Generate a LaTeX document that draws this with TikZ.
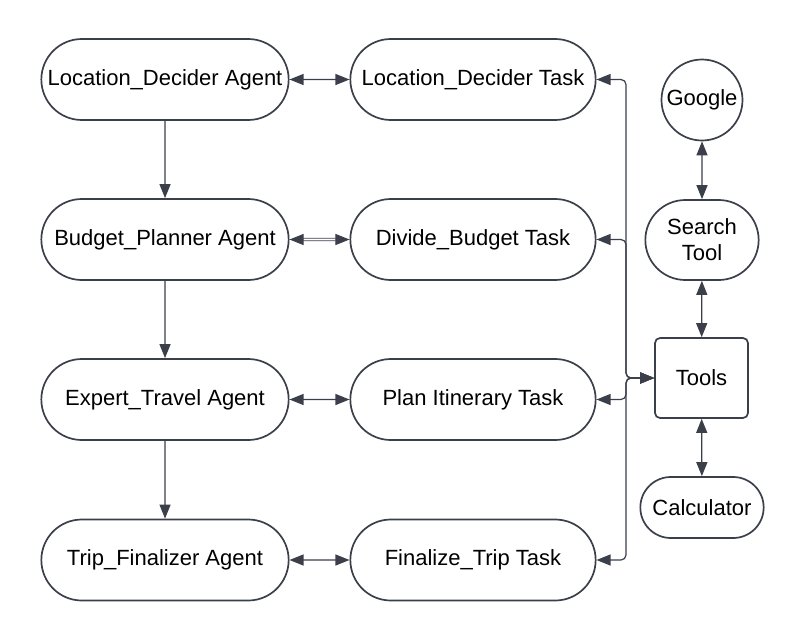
\documentclass[tikz,border=0pt]{standalone}
\usepackage{fontspec}
\setmainfont{Liberation Sans}
\usetikzlibrary{arrows.meta,shapes.misc}
\definecolor{ln}{RGB}{58,63,74}
\begin{document}
\begin{tikzpicture}[x=1pt,y=-1pt,
  every node/.style={font=\fontsize{22}{26}\selectfont, text=black},
  pill/.style={draw=ln, line width=1.7pt, rounded rectangle, fill=white, align=center},
  bigpill/.style={pill, minimum width=254pt, minimum height=81pt},
  conn/.style={draw=ln, line width=1.2pt},
  tip/.style={-{Triangle[length=14pt,width=11pt]}},
  tips/.style={{Triangle[length=14pt,width=11pt]}-{Triangle[length=14pt,width=11pt]}}
]
\useasboundingbox (0,0) rectangle (806,643);
% agents
\node[bigpill] (a1) at (165,79.5) {Location\_Decider Agent};
\node[bigpill] (a2) at (165,239.5) {Budget\_Planner Agent};
\node[bigpill] (a3) at (165,399.5) {Expert\_Travel Agent};
\node[bigpill] (a4) at (165,560) {Trip\_Finalizer Agent};
% tasks
\node[bigpill, minimum width=252pt] (t1) at (473,79.5) {Location\_Decider Task};
\node[bigpill, minimum width=252pt] (t2) at (473,239.5) {Divide\_Budget Task};
\node[bigpill, minimum width=252pt] (t3) at (473,399.5) {Plan Itinerary Task};
\node[bigpill, minimum width=252pt] (t4) at (473,560) {Finalize\_Trip Task};
% tools column
\node[draw=ln, line width=1.7pt, circle, minimum size=81pt, inner sep=0pt] (g) at (702,100) {Google};
\node[pill, minimum width=120pt, minimum height=80pt] (s) at (702,240) {Search\\Tool};
\node[draw=ln, line width=1.7pt, rounded corners=5pt, minimum width=93pt, minimum height=80pt] (tl) at (701.5,378) {Tools};
\node[pill, minimum width=130pt, minimum height=61pt] (c) at (702,507.5) {Calculator};
% agent chain
\draw[conn, tip] (a1) -- (a2);
\draw[conn, tip] (a2) -- (a3);
\draw[conn, tip] (a3) -- (a4);
% agent <-> task
\draw[conn, tips] (a1) -- (t1);
\draw[draw=ln, line width=0.9pt, double=white, double distance=1.6pt, tips] (a2) -- (t2);
\draw[conn, tips] (a3) -- (t3);
\draw[conn, tips] (a4) -- (t4);
% tools links
\draw[conn, tips] (g) -- (s);
\draw[conn, tips] (s) -- (tl);
\draw[conn, tips] (tl) -- (c);
% bracket from tools to tasks
\coordinate (j) at (626,378);
\foreach \t in {t1,t2,t3,t4}{
  \draw[conn, tips, rounded corners=5pt] (tl.west) -- (j) -- (j |- \t.east) -- (\t.east);
}
\end{tikzpicture}
\end{document}
